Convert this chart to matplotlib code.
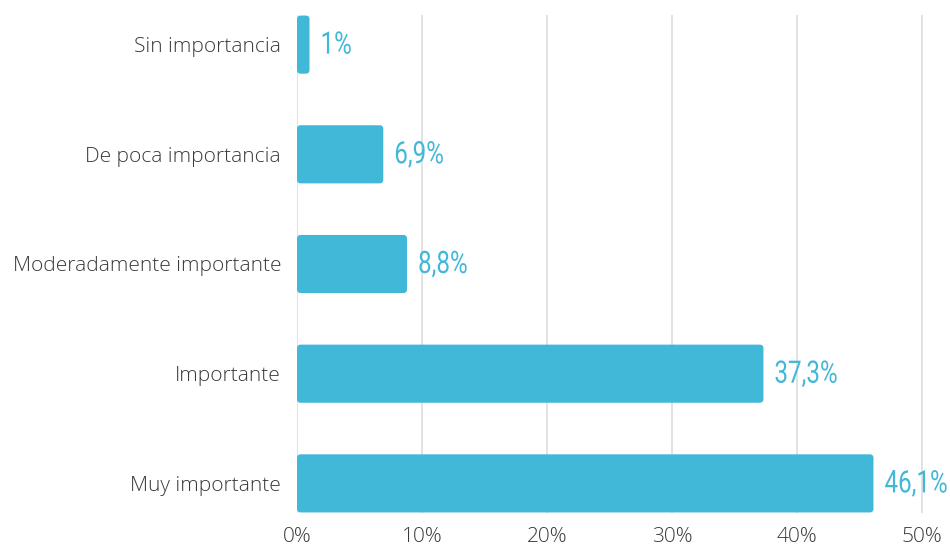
import matplotlib
matplotlib.use("Agg")
import matplotlib.pyplot as plt
from matplotlib.patches import FancyBboxPatch, PathPatch
from matplotlib.textpath import TextPath
from matplotlib.font_manager import FontProperties
from matplotlib.transforms import Affine2D, ScaledTranslation

categories = ["Sin importancia", "De poca importancia", "Moderadamente importante",
              "Importante", "Muy importante"]
values = [1.0, 6.9, 8.8, 37.3, 46.1]
value_labels = ["1%", "6,9%", "8,8%", "37,3%", "46,1%"]
xticks = [0, 10, 20, 30, 40, 50]
xtick_labels = ["0%", "10%", "20%", "30%", "40%", "50%"]

BAR = "#42b8d8"
TEXT = "#3a3a3a"

fig = plt.figure(figsize=(9.5, 5.45), dpi=100)
ax = fig.add_axes([297 / 950, 1 - 513 / 545, (946 - 297) / 950, (513 - 15) / 545])

# condensed value labels: squeeze a Roboto text path horizontally
label_prop = FontProperties(family="Roboto", weight="normal")
em_px = 31.0
squeeze = 0.78


def condensed_label(x, y, s):
    tp = TextPath((0, 0), s, size=1, prop=label_prop)
    tr = (Affine2D().scale(em_px * squeeze, em_px).translate(11, -0.711 * em_px / 2 + 2)
          + ScaledTranslation(x, y, ax.transData))
    ax.add_patch(PathPatch(tp, transform=tr, fc=BAR, ec="none", lw=0, zorder=4,
                           clip_on=False))


h = 0.53
for i, v in enumerate(values):
    patch = FancyBboxPatch((0, i - h / 2), v, h,
                           boxstyle="round,pad=0,rounding_size=0.3",
                           mutation_aspect=0.11, fc=BAR, ec="none", zorder=3)
    ax.add_patch(patch)
    condensed_label(v, i, value_labels[i])

ax.set_xlim(0, 51.9)
ax.set_ylim(4.27, -0.27)
ax.set_yticks(range(len(categories)))
ax.set_yticklabels(categories, family="Open Sans", weight="light", fontsize=15, color=TEXT)
ax.set_xticks(xticks)
ax.set_xticklabels(xtick_labels, family="Open Sans", weight="light", fontsize=15, color=TEXT)
ax.tick_params(length=0)
ax.tick_params(axis="y", pad=11.5)
ax.tick_params(axis="x", pad=10)
for s in ax.spines.values():
    s.set_visible(False)
ax.grid(axis="x", color="#dddddd", lw=1.2, zorder=0)
ax.set_axisbelow(True)

fig.savefig("out.png", dpi=100, facecolor="white")
